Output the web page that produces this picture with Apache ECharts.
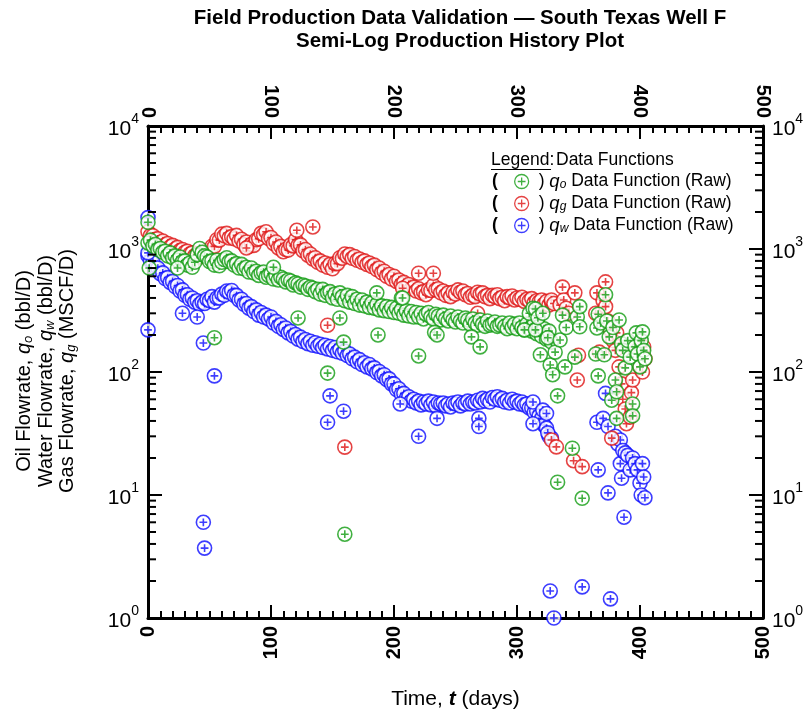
<!DOCTYPE html>
<html><head><meta charset="utf-8">
<script src="https://cdn.jsdelivr.net/npm/echarts@6/dist/echarts.min.js"></script>
<style>html,body{margin:0;padding:0;background:#fff}#c{width:809px;height:717px}</style>
</head><body><div id="c"></div>
<script>
// ---- data ----
const mainDays = [0,2,4,6,8,10,12,14,16,18,20,22,24,26,28,30,32,34,36,38,40,42,44,46,48,50,52,54,56,58,60,62,64,66,68,70,72,74,76,78,80,82,84,86,88,90,92,94,96,98,100,102,104,106,108,110,112,114,116,118,120,122,124,126,128,130,132,134,136,138,140,142,144,146,148,150,152,154,156,158,160,162,164,166,168,170,172,174,176,178,180,182,184,186,188,190,192,194,196,198,200,202,204,206,208,210,212,214,216,218,220,222,224,226,228,230,232,234,236,238,240,242,244,246,248,250,252,254,256,258,260,262,264,266,268,270,272,274,276,278,280,282,284,286,288,290,292,294,296,298,300,302,304,306,308,310,312,314,316,318,320,322,324,326,328];
const oilMain = [
1120,1180,1060,1090,990,1010,940,960,880,930,
850,880,810,860,790,800,740,770,710,780,
900,1010,940,880,860,790,800,740,810,730,
780,820,850,790,800,740,760,700,750,690,
710,650,700,640,660,610,640,650,590,610,
630,570,610,560,590,570,540,560,550,510,
530,520,490,510,500,470,490,480,450,470,
430,470,420,440,450,400,430,390,440,410,
380,420,370,410,360,390,350,385,345,370,
335,365,330,355,320,345,315,340,310,335,
305,330,300,320,290,315,285,310,280,305,
280,300,270,295,305,280,270,295,285,265,
290,270,260,285,265,255,280,260,250,275,
265,245,270,250,240,265,245,235,260,240,
245,255,235,240,250,235,225,250,230,245,
225,250,230,220,245,225,215,245,205,235,
195,225,185,215,175];
const gasMain = [
1380,1290,1280,1200,1210,1130,1160,1080,1110,1040,
1070,1000,1030,970,990,940,960,910,930,880,
910,860,920,900,970,960,1050,1050,1190,1180,
1320,1280,1340,1230,1260,1210,1290,1160,1200,1090,
1140,1050,1090,1070,1190,1210,1340,1310,1380,1220,
1240,1110,1140,1020,1050,950,990,980,1080,1060,
1190,1070,1080,970,990,890,910,830,850,780,
800,740,770,710,750,690,760,760,850,840,
910,870,900,840,870,810,830,780,800,750,
770,720,740,680,700,640,660,600,620,570,
600,545,560,515,535,495,515,475,490,455,
475,440,450,425,465,460,505,465,475,440,
455,420,440,410,445,430,465,445,455,425,
435,405,420,410,445,430,440,410,420,395,
420,410,425,395,405,380,410,400,415,385,
400,390,405,375,390,380,395,365,380,370,
385,355,375,350,370];
const waterMain = [
880,800,780,700,700,630,640,575,585,535,
545,495,505,455,465,420,425,390,400,370,
380,355,370,360,390,380,410,370,400,400,
430,420,455,445,460,420,420,385,390,355,
360,330,340,310,320,290,305,280,290,270,
280,250,258,235,242,222,228,208,214,196,
202,185,192,177,184,170,178,165,173,162,
168,158,165,154,161,150,158,146,152,142,
148,136,140,128,132,121,126,115,119,110,
115,106,108,99,101,93,95,87,88,80,
80,72,73,66,67,61,63,58,60,56,
58,54,57,55,58,54,57,53,56,55,
56,53,55,52,56,55,57,53,56,55,
58,55,57,56,59,57,61,58,60,57,
62,60,63,59,61,57,59,56,60,57,
58,55,57,54,55,51,51,47,48,44,
42,37,35,30,29];
const oilExtra = [
[0,1650],[1,700],[24,700],[54,190],[102,710],[122,275],[146,98],[156,275],[159,175],[160,4.8],[186,440],[187,200],[206,400],[207,400],[220,135],[233,210],[235,200],[263,193],[270,160],
[306,220],[310,300],[313,330],[315,325],[315,220],[317,276],[319,138],[321,300],[325,190],[327,114],[329,95],[331,145],[333,64],[333,12.7],[335,182],[337,290],[339,110],[340,230],[345,24],[347,132],[349,280],[351,340],[351,233],[353,9.4],
[364,140],[365,228],[366,295],[366,93],[368,250],[371,138],[372,425],[373,260],[375,193],[377,59],[378,230],[380,86],[381,69],[381,42],[383,265],[385,170],[386,150],[388,108],[390,180],[392,132],[394,55],[394,44],[396,160],[397,208],[398,140],[400,110],[401,180],[402,212],[403,150],[404,128]];
const gasExtra = [
[80,1020],[121,1420],[134,1510],[146,240],[160,24.5],[207,480],[220,635],[232,635],[268,300],
[328,385],[328,28],[330,360],[332,24.6],[335,350],[337,490],[338,385],[340,330],[342,300],[346,19],[347,440],[349,86],[350,137],[353,17],
[364,300],[365,440],[367,145],[370,380],[372,540],[372,340],[374,260],[376,220],[377,29],[378,180],[380,150],[381,208],[383,110],[385,80],[386,60],[388,50],[389,38],[392,43],[393,68],[394,86],[396,150],[398,140],[400,110],[402,100],[404,128],[403,160]];
const waterExtra = [
[0,1800],[0,930],[0,220],[28,300],[40,280],[45,172],[45,6.0],[46,3.7],[54,93],[146,39],[148,64],[159,48],[205,55],[220,30],[235,42],[269,42],[269,36],[313,38],[313,57],[321,49],[324,46],[325,32],[327,1.66],[330,1.0],[353,1.79],[376,1.43],
[365,39],[366,16],[370,42],[372,67],[374,36],[374,10.4],[380,30],[382,26],[384,28],[384,18],[385,13.7],[386,23],[387,6.6],[388,22],[390,21],[392,16],[394,20],[396,18],[398,16],[400,12.5],[401,10],[402,18],[403,14],[404,9.5]];
const logMinorTicks = [2,3,4,5,6,7,8,9,20,30,40,50,60,70,80,90,200,300,400,500,600,700,800,900,2000,3000,4000,5000,6000,7000,8000,9000];

// ---- chart ----
const C_OIL = '#119c11', C_GAS = '#de1414', C_WAT = '#0c0cff';
const SYM = 'path://M6.5,0A6.5,6.5,0,1,1,-6.5,0A6.5,6.5,0,1,1,6.5,0ZM-3.6,0L3.6,0M0,-3.6L0,3.6';
const FONT = 'Liberation Sans, Arial, sans-serif';
function pairs(days, vals){ return days.map((d,i)=>[d, vals[i]]); }
const yLabel = { fontFamily: FONT, fontSize: 21, color:'#000',
  formatter: v => { const e = Math.round(Math.log10(v)); return '{b|10}{s|' + e + '}'; },
  rich: { b:{fontSize:21, fontFamily:FONT, color:'#000', lineHeight:28, verticalAlign:'bottom'},
          s:{fontSize:14, fontFamily:FONT, color:'#000', lineHeight:28, verticalAlign:'top'} } };
const axisCommonX = {
  type:'value', min:0, max:500, interval:100,
  axisLine:{show:true, onZero:false, lineStyle:{color:'#000', width:3}},
  axisTick:{show:true, inside:true, length:13, lineStyle:{color:'#000', width:2}},
  minorTick:{show:true, splitNumber:10, length:7, lineStyle:{color:'#000', width:2}},
  splitLine:{show:false},
  axisLabel:{rotate:90, fontFamily:FONT, fontWeight:'bold', fontSize:20, color:'#000', margin:8}
};
const axisCommonY = {
  type:'log', logBase:10, min:1, max:10000,
  axisLine:{show:true, onZero:false, lineStyle:{color:'#000', width:3}},
  axisTick:{show:true, inside:true, length:14, lineStyle:{color:'#000', width:2}},
  splitLine:{show:false},
  axisLabel: Object.assign({margin:9}, yLabel)
};
function scatter(name, color, data, z){
  return { name, type:'scatter', data, symbol:SYM, symbolSize:14, z,
    itemStyle:{color:'#ffffff', borderColor:color, borderWidth:1.6},
    emphasis:{disabled:true}, animation:false, clip:false };
}
const LF = 17.5;
const chart = echarts.init(document.getElementById('c'), null, {renderer:'canvas'});
const opt = {
  animation:false,
  grid:{left:148, right:46, top:126, bottom:99, containLabel:false},
  xAxis:[
    Object.assign({}, axisCommonX, {position:'bottom',
      name:'{b|Time, }{i|t}{b| (days)}', nameLocation:'middle', nameGap:71,
      nameTextStyle:{rich:{b:{fontFamily:FONT, fontSize:21, color:'#000'}, i:{fontFamily:FONT, fontSize:21, fontStyle:'italic', fontWeight:'bold', color:'#000'}}}}),
    Object.assign({}, axisCommonX, {position:'top'})
  ],
  yAxis:[
    Object.assign({}, axisCommonY, {position:'left'}),
    Object.assign({}, axisCommonY, {position:'right'})
  ],
  legend:{
    orient:'vertical', left:509, top:167, itemGap:3, itemWidth:14, itemHeight:14,
    selectedMode:false,
    data:[
      {name:'qo', icon:SYM, itemStyle:{color:'#fff', borderColor:C_OIL, borderWidth:1.3}},
      {name:'qg', icon:SYM, itemStyle:{color:'#fff', borderColor:C_GAS, borderWidth:1.3}},
      {name:'qw', icon:SYM, itemStyle:{color:'#fff', borderColor:C_WAT, borderWidth:1.3}}
    ],
    formatter: n => '{p|)} {q|q}{s|' + n.slice(1) + '}{t| Data Function (Raw)}',
    textStyle:{fontFamily:FONT, fontSize:LF, color:'#000', padding:[0,0,0,5], lineHeight:18,
      rich:{p:{fontFamily:FONT, fontSize:LF, color:'#000', lineHeight:18},
            q:{fontFamily:FONT, fontSize:LF+1, fontStyle:'italic', color:'#000', lineHeight:18},
            s:{fontFamily:FONT, fontSize:12, fontStyle:'italic', color:'#000', verticalAlign:'bottom', lineHeight:18},
            t:{fontFamily:FONT, fontSize:LF, color:'#000', lineHeight:18}}}
  },
  graphic:[
    {type:'text', x:460, y:7, style:{text:'Field Production Data Validation — South Texas Well F\nSemi-Log Production History Plot',
      align:'center', font:'bold 20.5px ' + FONT, fill:'#000', lineHeight:23}},
    {type:'text', x:491, y:160, style:{text:'Legend:', font:LF+'px ' + FONT, fill:'#000', verticalAlign:'middle'}},
    {type:'line', shape:{x1:491, y1:169.5, x2:551, y2:169.5}, style:{stroke:'#000', lineWidth:1.2}},
    {type:'text', x:556, y:160, style:{text:'Data Functions', font:LF+'px ' + FONT, fill:'#000', verticalAlign:'middle'}},
    {type:'text', x:492, y:181, style:{text:'(', font:'bold ' + LF+'px ' + FONT, fill:'#000', verticalAlign:'middle'}},
    {type:'text', x:492, y:203, style:{text:'(', font:'bold ' + LF+'px ' + FONT, fill:'#000', verticalAlign:'middle'}},
    {type:'text', x:492, y:225, style:{text:'(', font:'bold ' + LF+'px ' + FONT, fill:'#000', verticalAlign:'middle'}},
    {type:'text', x:46, y:371, rotation:Math.PI/2, style:{
      text:'{n|Oil Flowrate, }{i|q}{s|o}{n| (bbl/D)}\n{n|Water Flowrate, }{i|q}{s|w}{n| (bbl/D)}\n{n|Gas Flowrate, }{i|q}{s|g}{n| (MSCF/D)}',
      align:'center', verticalAlign:'middle',
      rich:{n:{fontFamily:FONT, fontSize:20, fill:'#000', lineHeight:21.5},
            i:{fontFamily:FONT, fontSize:20, fontStyle:'italic', fill:'#000', lineHeight:21.5},
            s:{fontFamily:FONT, fontSize:13, fontStyle:'italic', fill:'#000', lineHeight:21.5, verticalAlign:'bottom'}}}}
  ],
  series:[
    scatter('qw', C_WAT, pairs(mainDays, waterMain).concat(waterExtra), 2),
    scatter('qg', C_GAS, pairs(mainDays, gasMain).concat(gasExtra), 3),
    scatter('qo', C_OIL, pairs(mainDays, oilMain).concat(oilExtra), 4),
    { type:'custom', silent:true, z:10, xAxisIndex:0, yAxisIndex:0, clip:false,
      data: logMinorTicks.map(v=>[0,v]),
      renderItem:(params, api)=>{
        const v = api.value(1);
        const pl = api.coord([0, v]); const pr = api.coord([500, v]);
        const st = {stroke:'#000', lineWidth:2};
        return {type:'group', children:[
          {type:'line', shape:{x1:pl[0], y1:pl[1], x2:pl[0]+8, y2:pl[1]}, style:st},
          {type:'line', shape:{x1:pr[0]-8, y1:pr[1], x2:pr[0], y2:pr[1]}, style:st}
        ]};
      }
    }
  ]
};
chart.setOption(opt);
</script></body></html>
